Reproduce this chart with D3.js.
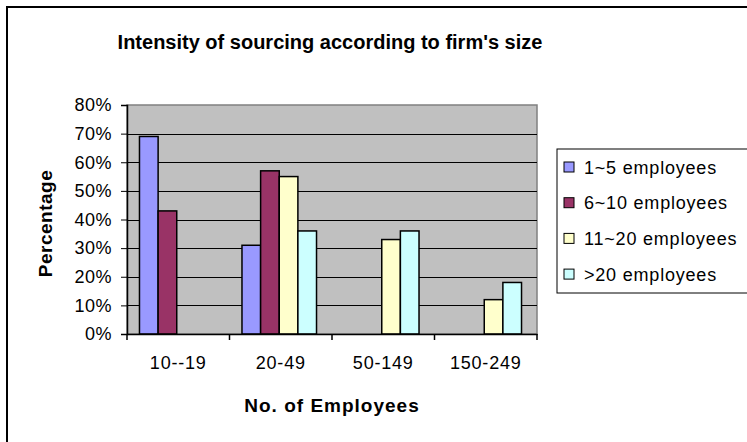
<!DOCTYPE html>
<html><head><meta charset="utf-8">
<script src="https://cdn.jsdelivr.net/npm/d3@7"></script>
<style>body{margin:0;background:#fff}svg{display:block}text{font-family:"Liberation Sans",Arial,sans-serif}</style>
</head><body>
<svg id="c" width="747" height="442"></svg>
<script>
const categories = ["10--19", "20-49", "50-149", "150-249"];
const seriesNames = ["1~5 employees", "6~10 employees", "11~20 employees", ">20 employees"];
const s1 = [0.69, 0.31, null, null];
const s2 = [0.43, 0.57, null, null];
const s3 = [null, 0.55, 0.33, 0.12];
const s4 = [null, 0.36, 0.36, 0.18];
const seriesValues = [s1, s2, s3, s4];
const colors = ["#9999FF", "#993366", "#FFFFCC", "#CCFFFF"];
const yTicks = [0, 0.1, 0.2, 0.3, 0.4, 0.5, 0.6, 0.7, 0.8];

const svg = d3.select("#c");
// outer chart border (extends past the picture on right/bottom)
svg.append("rect").attr("x", 7).attr("y", 7).attr("width", 760).attr("height", 460)
  .attr("fill", "#fff").attr("stroke", "#000").attr("stroke-width", 2);

const L = 127, R = 537, T = 105, B = 334;
const x0 = d3.scaleBand().domain(categories).range([L, R]).padding(0);
const bw = x0.bandwidth();
const gap = bw / 5.5 * 1.5;
const x1 = d3.scaleBand().domain(d3.range(4)).range([gap / 2 - 1.5, bw - gap / 2 - 1.5]).padding(0);
const y = d3.scaleLinear().domain([0, 0.8]).range([B, T]);

// plot area
svg.append("rect").attr("x", L).attr("y", T).attr("width", R - L).attr("height", B - T)
  .attr("fill", "#C0C0C0").attr("stroke", "#808080").attr("stroke-width", 1.5);

// gridlines
svg.append("g").selectAll("line").data(yTicks.slice(1, -1)).join("line")
  .attr("x1", L).attr("x2", R).attr("y1", d => Math.round(y(d)) + 0.5).attr("y2", d => Math.round(y(d)) + 0.5)
  .attr("stroke", "#000").attr("stroke-width", 1);

// bars
const groups = svg.append("g").selectAll("g").data(seriesValues).join("g").attr("fill", (d, i) => colors[i]);
groups.each(function(vals, si) {
  d3.select(this).selectAll("rect")
    .data(vals.map((v, ci) => ({v, c: categories[ci]})).filter(d => d.v != null))
    .join("rect")
    .attr("x", d => x0(d.c) + x1(si))
    .attr("y", d => y(d.v))
    .attr("width", x1.bandwidth())
    .attr("height", d => y(0) - y(d.v))
    .attr("stroke", "#000").attr("stroke-width", 1.5);
});

const fam = "Liberation Sans, Arial, sans-serif";
// y axis
const yAxis = d3.axisLeft(y).tickValues(yTicks).tickFormat(d3.format(".0%")).tickSize(6).tickPadding(9);
const ya = svg.append("g").attr("transform", `translate(${L},0)`).call(yAxis);
ya.select(".domain").attr("stroke", "#000").attr("stroke-width", 1.5);
ya.selectAll("text").attr("font-size", 18).attr("fill", "#000").style("font-family", fam).style("letter-spacing", "0.5px");

// x axis
const xAxis = d3.axisBottom(x0).tickSize(0).tickPadding(22);
const xa = svg.append("g").attr("transform", `translate(0,${B})`).call(xAxis);
xa.select(".domain").attr("stroke", "#000").attr("stroke-width", 1.5);
xa.selectAll("text").attr("font-size", 18).attr("fill", "#000").style("font-family", fam).style("letter-spacing", "0.8px");
// category separator ticks
svg.append("g").selectAll("line").data(categories.concat(["__end"])).join("line")
  .attr("x1", d => d === "__end" ? R : x0(d)).attr("x2", d => d === "__end" ? R : x0(d))
  .attr("y1", B).attr("y2", B + 6).attr("stroke", "#000").attr("stroke-width", 1.5);

// titles
svg.append("text").attr("x", 330).attr("y", 49).attr("text-anchor", "middle")
  .attr("font-size", 20).attr("font-weight", "bold").text("Intensity of sourcing according to firm's size");
svg.append("text").attr("x", (L + R) / 2).attr("y", 412).attr("text-anchor", "middle")
  .attr("font-size", 19).attr("font-weight", "bold").style("letter-spacing", "1px").text("No. of Employees");
svg.append("text").attr("transform", `translate(52,${(T + B) / 2 + 4}) rotate(-90)`).attr("text-anchor", "middle")
  .attr("font-size", 19).attr("font-weight", "bold").style("letter-spacing", "0.5px").text("Percentage");

// legend
const lg = svg.append("g");
lg.append("rect").attr("x", 557).attr("y", 149).attr("width", 220).attr("height", 144)
  .attr("fill", "#fff").attr("stroke", "#000").attr("stroke-width", 1);
const items = lg.selectAll("g.item").data(seriesNames).join("g").attr("class", "item")
  .attr("transform", (d, i) => `translate(564,${167 + i * 35.7})`);
items.append("rect").attr("x", 0).attr("y", -5).attr("width", 10).attr("height", 10)
  .attr("fill", (d, i) => colors[i]).attr("stroke", "#000").attr("stroke-width", 1);
items.append("text").attr("x", 20).attr("y", 6.5).attr("font-size", 18).style("letter-spacing", "0.8px").text(d => d);
</script>
</body></html>
